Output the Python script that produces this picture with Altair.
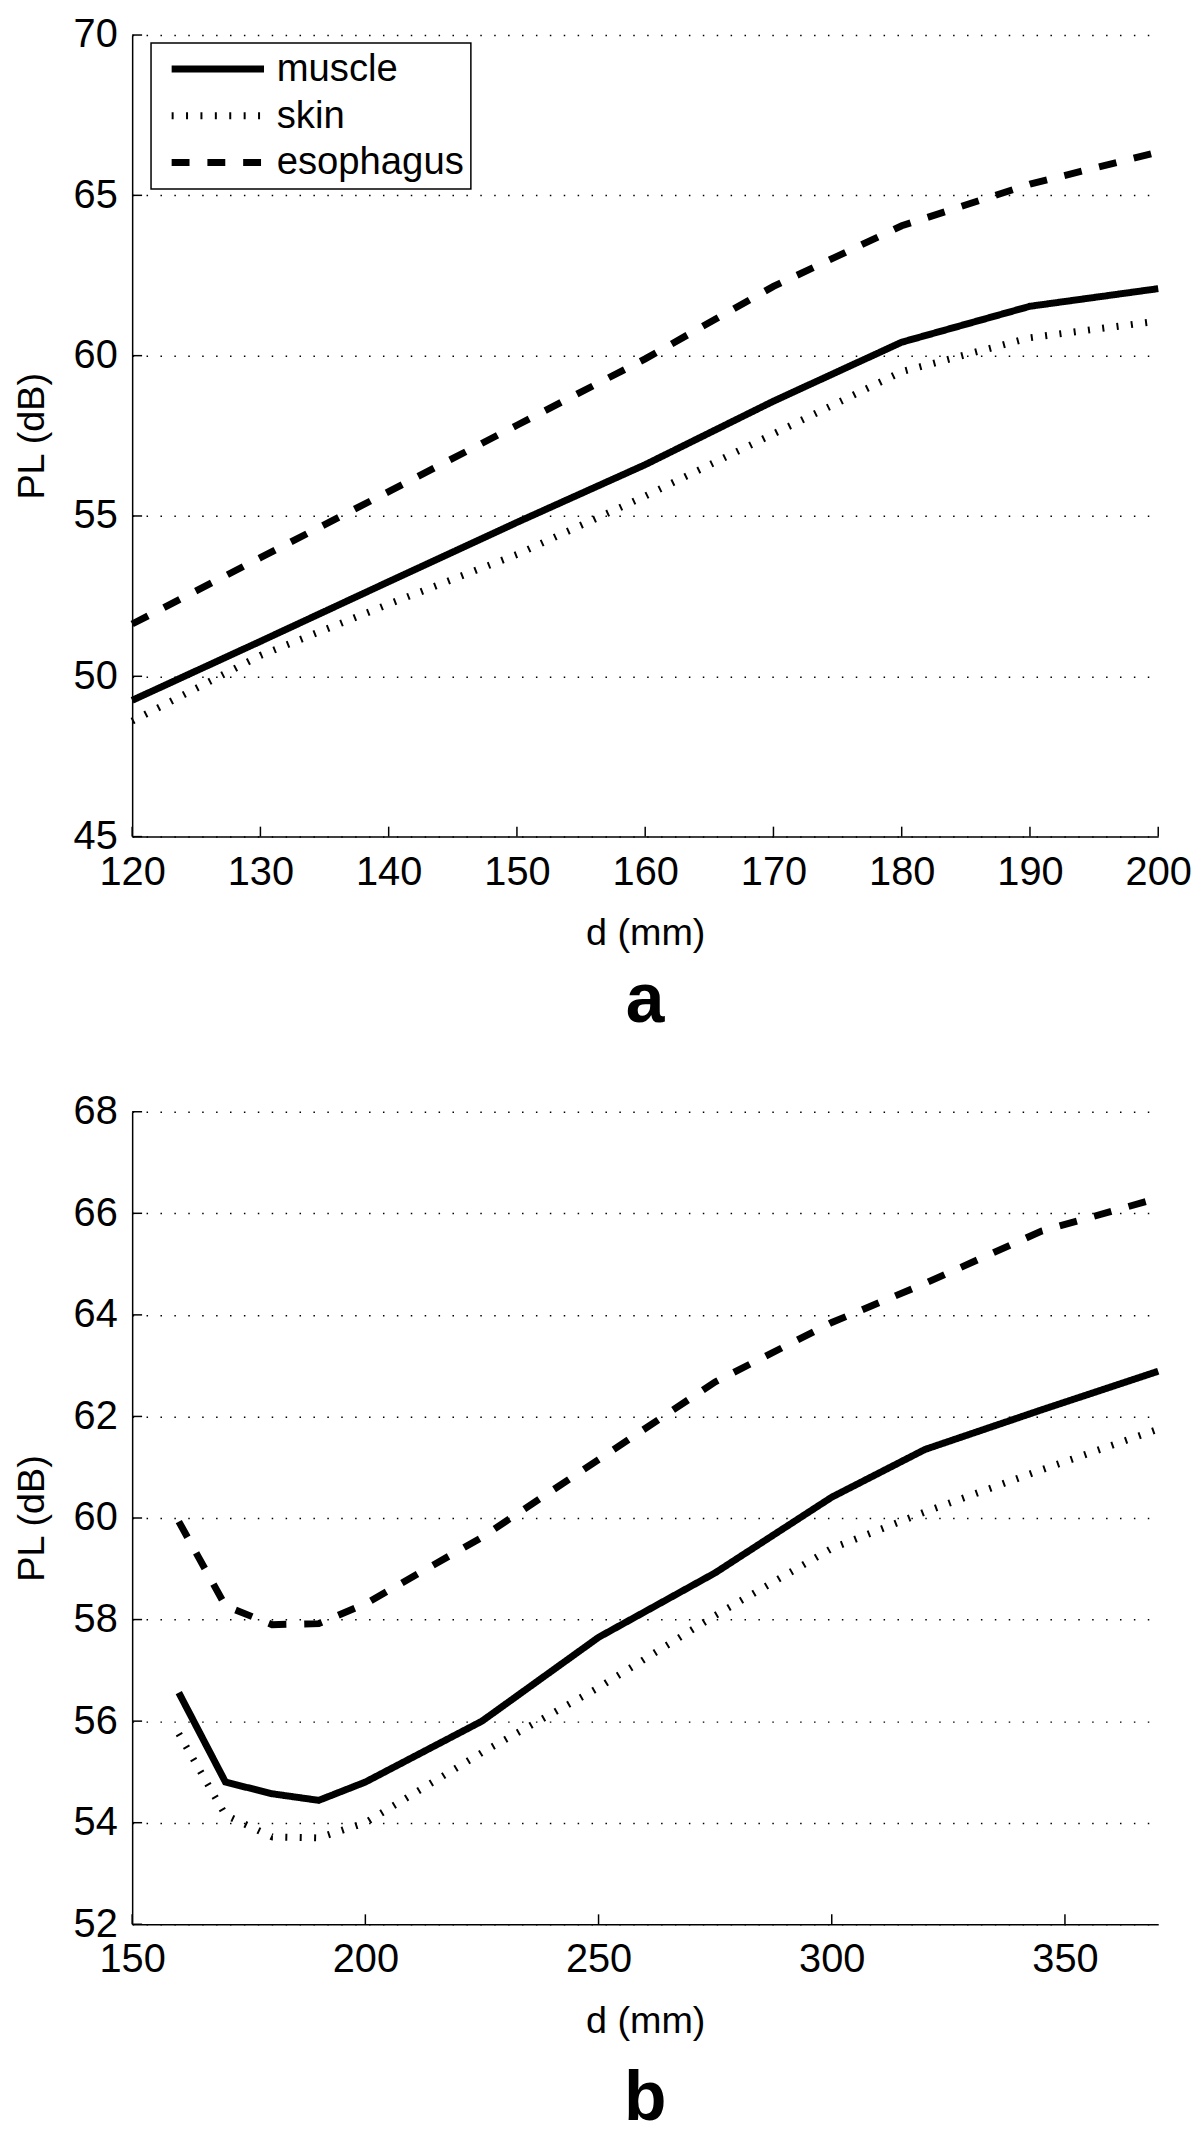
import altair as alt
import pandas as pd

FONT = "Liberation Sans, Arial, Helvetica, sans-serif"
SERIES = ["muscle", "skin", "esophagus"]
DASHES = [[1, 0], [2, 12.5], [18, 18]]

# ---- panel a ----
a_d = [120, 130, 140, 150, 160, 170, 180, 190, 200]
a_muscle = [49.25, 51.09, 52.95, 54.8, 56.6, 58.58, 60.42, 61.54, 62.09]
a_skin = [48.6, 50.65, 52.25, 53.8, 55.62, 57.56, 59.5, 60.56, 61.08]
a_esophagus = [51.63, 53.7, 55.76, 57.83, 59.9, 62.16, 64.05, 65.35, 66.35]
a_xticks = [120, 130, 140, 150, 160, 170, 180, 190, 200]
a_yticks = [45, 50, 55, 60, 65, 70]

# ---- panel b ----
b_d = [160, 170, 180, 190, 200, 225, 250, 275, 300, 320, 345, 370]
b_muscle = [56.56, 54.8, 54.57, 54.44, 54.8, 56.0, 57.65, 58.92, 60.41, 61.35, 62.13, 62.89]
b_skin = [55.75, 54.15, 53.72, 53.7, 54.0, 55.38, 56.66, 58.08, 59.4, 60.12, 60.95, 61.75]
b_esophagus = [59.93, 58.27, 57.9, 57.92, 58.31, 59.62, 61.15, 62.68, 63.85, 64.62, 65.65, 66.3]
b_xticks = [150, 200, 250, 300, 350]
b_yticks = [52, 54, 56, 58, 60, 62, 64, 66, 68]

W = 1033
TICK = 10
LW = 7


def long_df(d, m, s, e):
    rows = []
    for name, vals in zip(SERIES, [m, s, e]):
        for x, y in zip(d, vals):
            rows.append({"d": x, "PL": y, "series": name})
    return pd.DataFrame(rows)


def panel(df, xdom, xticks, ydom, yticks, letter, letter_offset, H, legend_y):
    xs = alt.Scale(domain=xdom, nice=False, zero=False)
    ys = alt.Scale(domain=ydom, nice=False, zero=False)
    xaxis = alt.Axis(
        title="d (mm)", values=xticks, format="d", grid=False, ticks=False,
        labelPadding=16, titlePadding=23, labelFlush=False, labelOverlap=False)
    yaxis = alt.Axis(
        title="PL (dB)", values=yticks, format="d", grid=True, ticks=False,
        labelPadding=15, titlePadding=22, labelFlush=False, labelOverlap=False)
    lines = alt.Chart(df).mark_line(
        color="black", strokeWidth=LW, strokeCap="butt", strokeJoin="miter"
    ).encode(
        x=alt.X("d:Q", scale=xs, axis=xaxis),
        y=alt.Y("PL:Q", scale=ys, axis=yaxis),
        strokeDash=alt.StrokeDash(
            "series:N",
            scale=alt.Scale(domain=SERIES, range=DASHES),
            sort=SERIES,
            legend=alt.Legend(
                title=None, orient="none", legendX=19, legendY=legend_y,
                symbolType="M-5,0H5", symbolSize=346, symbolStrokeWidth=LW,
                symbolStrokeColor="black", labelFontSize=38.5, labelLimit=400,
                labelOffset=40, symbolOffset=41, rowPadding=8, padding=7,
                strokeColor="black", fillColor="white")),
        order=alt.Order("d:Q"),
    )
    xt = alt.Chart(pd.DataFrame({"d": xticks})).mark_rule(
        color="black", strokeWidth=1.5
    ).encode(
        x=alt.X("d:Q", scale=xs, axis=xaxis),
        y=alt.value(H), y2=alt.value(H - TICK),
    )
    yt = alt.Chart(pd.DataFrame({"PL": yticks})).mark_rule(
        color="black", strokeWidth=1.5
    ).encode(
        y=alt.Y("PL:Q", scale=ys, axis=yaxis),
        x=alt.value(0), x2=alt.value(TICK),
    )
    return alt.layer(lines, xt, yt).properties(
        width=W, height=H,
        title=alt.TitleParams(letter, orient="bottom", fontSize=70,
                              fontWeight="bold", offset=letter_offset,
                              anchor="middle", frame="group"),
    )


pa = panel(long_df(a_d, a_muscle, a_skin, a_esophagus), [120, 200], a_xticks,
           [45, 70], a_yticks, "a", 15, 807, 8)
pb = panel(long_df(b_d, b_muscle, b_skin, b_esophagus), [150, 370], b_xticks,
           [52, 68], b_yticks, "b", 25, 818, 17)

chart = alt.vconcat(pa, pb, spacing=56).properties(
    padding={"left": 5, "top": 0, "right": 0, "bottom": 0}
).configure_view(stroke=None).configure_axis(
    labelFont=FONT, titleFont=FONT, labelFontSize=40, titleFontSize=38,
    titleFontWeight="normal", labelColor="black", titleColor="black",
    domainColor="black", domainWidth=1.5, gridColor="black",
    gridDash=[1.5, 12.5], gridWidth=1.5, gridOpacity=1,
).configure_legend(
    labelFont=FONT, labelColor="black", strokeWidth=1.5,
).configure_title(font=FONT, color="black")

chart.save("out.html", embed_options={"renderer": "svg", "actions": False})
